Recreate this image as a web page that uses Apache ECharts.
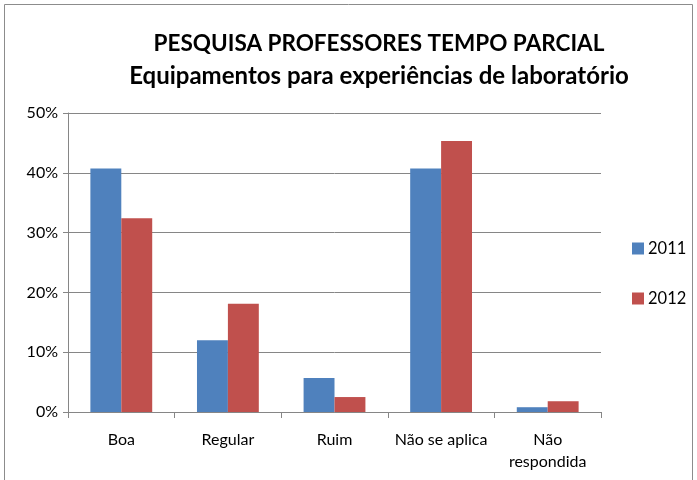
<!DOCTYPE html>
<html>
<head>
<meta charset="utf-8">
<script src="https://cdn.jsdelivr.net/npm/echarts@6/dist/echarts.min.js"></script>
<style>
  html, body { margin: 0; padding: 0; background: #fff; }
  #chart { width: 697px; height: 480px; }
</style>
</head>
<body>
<div id="chart"></div>
<script>
  // dados (%)
  const categories = ['Boa', 'Regular', 'Ruim', 'Não se aplica', 'Não\nrespondida']
  const values2011 = [40.7, 12.0, 5.7, 40.7, 0.8]
  const values2012 = [32.4, 18.1, 2.5, 45.3, 1.8]
  const seriesNames = ['2011', '2012']

  const font = 'Lato, "Open Sans", sans-serif'
  const chart = echarts.init(document.getElementById('chart'))

  chart.setOption({
    animation: false,
    color: ['#4F81BD', '#C0504D'],
    graphic: [{
      type: 'rect',
      shape: { x: 4.5, y: 4.5, width: 688, height: 490 },
      style: { fill: 'none', stroke: '#8c8c8c', lineWidth: 1 }
    }],
    title: {
      text: '{a|PESQUISA PROFESSORES TEMPO PARCIAL}\n{b|Equipamentos para experiências de laboratório}',
      left: 374,
      top: 22,
      textAlign: 'center',
      textStyle: {
        rich: {
          a: { fontFamily: font, fontWeight: 'bold', fontSize: 22.5, lineHeight: 33, color: '#000' },
          b: { fontFamily: font, fontWeight: 'bold', fontSize: 24, lineHeight: 33, color: '#000' }
        }
      }
    },
    legend: {
      orient: 'vertical',
      left: 632,
      top: 240,
      padding: 0,
      itemWidth: 12,
      itemHeight: 12,
      itemGap: 33,
      icon: 'rect',
      textStyle: { fontFamily: font, fontSize: 16.5, color: '#000', padding: [0, 0, 0, -1] },
      data: seriesNames
    },
    grid: {
      left: 68,
      right: 96,
      top: 113,
      bottom: 68,
      containLabel: false
    },
    xAxis: {
      type: 'category',
      data: categories,
      axisLine: { lineStyle: { color: '#868686' } },
      axisTick: { show: true, length: 6, lineStyle: { color: '#868686' } },
      axisLabel: {
        interval: 0,
        fontFamily: font,
        fontSize: 16,
        color: '#000',
        margin: 17,
        lineHeight: 22
      }
    },
    yAxis: {
      type: 'value',
      min: 0,
      max: 50,
      interval: 10,
      axisLine: { show: true, lineStyle: { color: '#868686' } },
      axisTick: { show: true, length: 5, lineStyle: { color: '#868686' } },
      splitLine: { lineStyle: { color: '#868686' } },
      axisLabel: {
        fontFamily: font,
        fontSize: 16,
        color: '#000',
        margin: 10,
        formatter: '{value}%'
      }
    },
    series: [{
      name: seriesNames[0],
      type: 'bar',
      data: values2011,
      barGap: '0%',
      barCategoryGap: '42%'
    }, {
      name: seriesNames[1],
      type: 'bar',
      data: values2012,
      barGap: '0%',
      barCategoryGap: '42%'
    }]
  })
</script>
</body>
</html>
